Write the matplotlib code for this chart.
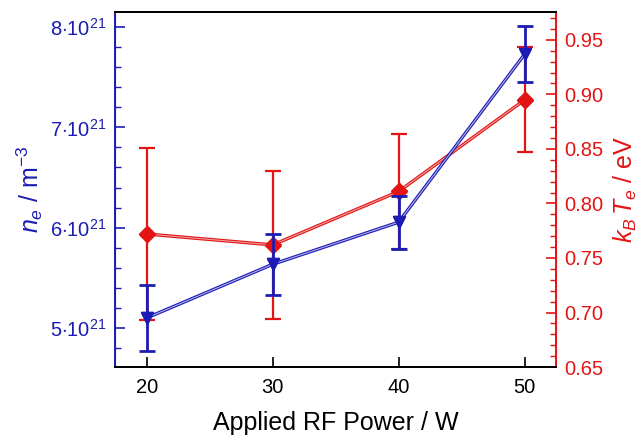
import matplotlib.pyplot as plt
from matplotlib.ticker import FixedLocator, MultipleLocator, FuncFormatter

plt.rcParams['font.family'] = ['Liberation Sans', 'DejaVu Sans']
plt.rcParams['mathtext.fontset'] = 'custom'
plt.rcParams['mathtext.rm'] = 'Liberation Sans'
plt.rcParams['mathtext.it'] = 'Liberation Sans:italic'
plt.rcParams['xtick.direction'] = 'in'
plt.rcParams['ytick.direction'] = 'in'

# data
power = [20, 30, 40, 50]
ne = [5.10e21, 5.635e21, 6.055e21, 7.73e21]
ne_err = [0.33e21, 0.305e21, 0.265e21, 0.28e21]
te = [0.772, 0.762, 0.811, 0.895]
te_err = [0.079, 0.068, 0.053, 0.048]

blue = '#1c1cb4'
red = '#e41414'

fig = plt.figure(figsize=(6.4, 4.37), dpi=100)
ax = fig.add_axes([0.180, 0.160, 0.689, 0.8125])
ax2 = ax.twinx()

# red series (right axis)
ax2.errorbar(power, te, yerr=te_err, color=red, lw=2.4, marker='D', ms=8,
             capsize=6, capthick=1.6, elinewidth=1.6, zorder=3)
ax2.plot(power, te, color='#f0a0a0', lw=0.8, zorder=4)
ax2.plot(power, te, 'D', color=red, ms=8, zorder=5)

# blue series (left axis) on top
ax.set_zorder(ax2.get_zorder() + 1)
ax.patch.set_visible(False)
ax.errorbar(power, ne, yerr=ne_err, color=blue, lw=2.4, marker='v', ms=9,
            capsize=6, capthick=2, elinewidth=2, zorder=3)
ax.plot(power, ne, color='#b0b0e8', lw=0.8, zorder=4)
ax.plot(power, ne, 'v', color=blue, ms=9, zorder=5)

ax.set_xlim(17.5, 52.5)
ax.set_ylim(4.61e21, 8.15e21)
ax2.set_ylim(0.65, 0.9755)

ax.set_xticks([20, 30, 40, 50])
ax.yaxis.set_major_locator(FixedLocator([5e21, 6e21, 7e21, 8e21]))
ax.yaxis.set_minor_locator(MultipleLocator(0.2e21))
ax.yaxis.set_major_formatter(FuncFormatter(lambda v, p: r'%d$\cdot$10$^{21}$' % round(v / 1e21)))
ax2.yaxis.set_major_locator(MultipleLocator(0.05))
ax2.yaxis.set_minor_locator(MultipleLocator(0.01))
ax2.yaxis.set_major_formatter(FuncFormatter(lambda v, p: '%.2f' % v))

ax.tick_params(axis='x', direction='in', length=7, width=1.2, labelsize=14.5, pad=8, colors='black')
ax.tick_params(axis='y', which='major', direction='in', length=7, width=1.2, labelsize=14.5,
               colors=blue, pad=6)
ax.tick_params(axis='y', which='minor', direction='in', length=4, width=1, colors=blue)
ax2.tick_params(axis='y', which='major', direction='in', length=7, width=1.2, labelsize=14.5,
                colors=red, pad=6)
ax2.tick_params(axis='y', which='minor', direction='in', length=4, width=1, colors=red)

for a in (ax, ax2):
    a.spines['top'].set_color('black')
    a.spines['bottom'].set_color('black')
    a.spines['top'].set_linewidth(1.4)
    a.spines['bottom'].set_linewidth(1.4)
ax2.spines['left'].set_color(blue)
ax2.spines['right'].set_color(red)
ax.spines['left'].set_color(blue)
ax.spines['right'].set_color(red)
ax.spines['left'].set_linewidth(1.4)
ax2.spines['right'].set_linewidth(1.4)

ax.set_xlabel('Applied RF Power / W', fontsize=18, labelpad=10)
ax.set_ylabel(r'$n_e$ / m$^{-3}$', fontsize=18, color=blue, labelpad=4)
ax2.set_ylabel(r'$k_B\,T_e$ / eV', fontsize=18, color=red, labelpad=6)

plt.savefig('out.png', dpi=100)
